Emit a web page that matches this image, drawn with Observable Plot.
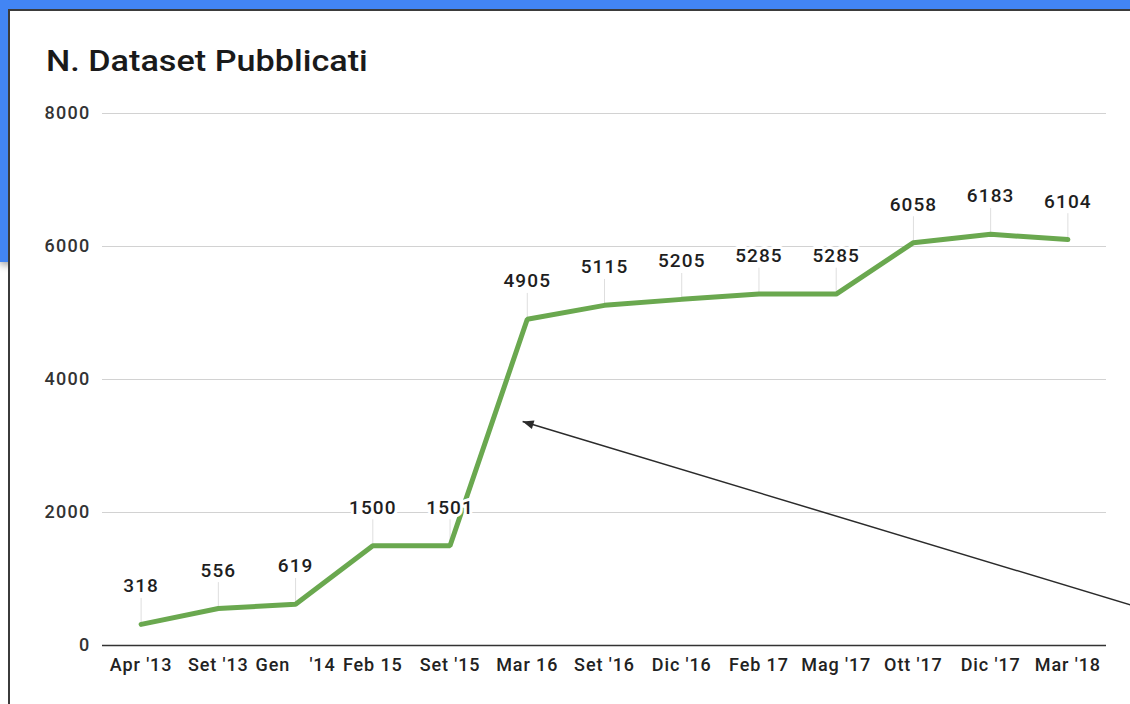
<!DOCTYPE html>
<html>
<head>
<meta charset="utf-8">
<script src="https://cdn.jsdelivr.net/npm/d3@7"></script>
<script src="https://cdn.jsdelivr.net/npm/@observablehq/plot@0.6"></script>
<style>
  html, body { margin: 0; padding: 0; }
  body { width: 1130px; height: 704px; overflow: hidden; position: relative; background: #ffffff; font-family: Roboto, "Noto Sans", sans-serif; }
  #blue { position: absolute; left: 0; top: 0; width: 1130px; height: 262px; background: #4285f4; box-shadow: 0 3px 7px rgba(0,0,0,0.35); }
  #card { position: absolute; left: 8px; top: 9px; width: 1140px; height: 720px; background: #ffffff; border-top: 2px solid #3b3b3b; border-left: 2px solid #3b3b3b; }
  #title { position: absolute; left: 46px; top: 46px; font-size: 30px; line-height: 30px; font-weight: 500; color: #1a1a1a; white-space: nowrap; transform: scaleX(1.14); transform-origin: left center; }
  #chart { position: absolute; left: 0; top: 95px; }
  #chart text { font-weight: 500; }
  #chart g[aria-label="y-axis tick label"] text { letter-spacing: 1.3px; }
  #chart g[aria-label="x-axis tick label"] text { letter-spacing: 0.9px; }
  #chart g[aria-label="text"] text { letter-spacing: 1.1px; }
</style>
</head>
<body>
<div id="blue"></div>
<div id="card"></div>
<div id="title">N. Dataset Pubblicati</div>
<div id="chart"></div>
<script>
const periods = ["Apr '13", "Set '13", "Gen\u2003'14", "Feb 15", "Set '15", "Mar 16", "Set '16", "Dic '16", "Feb 17", "Mag '17", "Ott '17", "Dic '17", "Mar '18"];
const datasets = [318, 556, 619, 1500, 1501, 4905, 5115, 5205, 5285, 5285, 6058, 6183, 6104];
const yTicks = [0, 2000, 4000, 6000, 8000];
// annotation arrow (x in category index units, y in dataset units)
const arrowFrom = { x: 13.2, y: 475 };
const arrowTo = { x: 4.94, y: 3368 };

const data = periods.map((p, i) => ({ i, period: p, value: datasets[i] }));
const annotation = [{ x1: arrowFrom.x, y1: arrowFrom.y, x2: arrowTo.x, y2: arrowTo.y }];

function triangleMarker(color, context) {
  const doc = (context && context.document) || document;
  const ns = "http://www.w3.org/2000/svg";
  const m = doc.createElementNS(ns, "marker");
  m.setAttribute("viewBox", "-12 -6 13 12");
  m.setAttribute("markerUnits", "userSpaceOnUse");
  m.setAttribute("markerWidth", "13");
  m.setAttribute("markerHeight", "12");
  m.setAttribute("refX", "0");
  m.setAttribute("refY", "0");
  m.setAttribute("orient", "auto");
  m.setAttribute("fill", color);
  m.setAttribute("stroke", "none");
  const p = doc.createElementNS(ns, "path");
  p.setAttribute("d", "M-11,-4.5L0,0L-11,4.5Z");
  m.appendChild(p);
  return m;
}

const leaderShape = {
  draw(context, l) {
    context.moveTo(0, 0);
    context.lineTo(0, -l);
  }
};

const chart = Plot.plot({
  width: 1130,
  height: 609,
  marginTop: 18,
  marginBottom: 59,
  marginLeft: 102,
  marginRight: 24,
  style: { fontFamily: "Roboto, 'Noto Sans', sans-serif", background: "transparent", overflow: "visible" },
  x: { type: "linear", domain: [-0.5, periods.length - 0.5], axis: null },
  y: { domain: [0, 8000], axis: null },
  marks: [
    Plot.ruleY(yTicks.filter(d => d > 0), { stroke: "#d2d2d2", strokeWidth: 1 }),
    Plot.axisY({ ticks: yTicks, tickSize: 0, tickPadding: 12, fontSize: 18, color: "#333333", tickFormat: d => `${d}`, label: null }),
    Plot.axisX({ ticks: periods.map((_, i) => i), tickFormat: i => periods[i], tickSize: 0, tickPadding: 13, fontSize: 18, color: "#222222", label: null }),
    Plot.ruleY([0], { stroke: "#333333", strokeWidth: 1.5 }),
    Plot.vector(data, { x: "i", y: "value", length: 26, anchor: "start", shape: leaderShape, stroke: "#dedede", strokeWidth: 1 }),
    Plot.line(data, { x: "i", y: "value", stroke: "#6aa84f", strokeWidth: 5, strokeLinejoin: "miter" }),
    Plot.text(data, { x: "i", y: "value", text: d => `${d.value}`, dy: -38, fontSize: 19, fill: "#1e1e1e", stroke: "white", strokeWidth: 6, paintOrder: "stroke" }),
    Plot.link(annotation, { x1: "x1", y1: "y1", x2: "x2", y2: "y2", stroke: "#2b2b2b", strokeWidth: 1.5, markerEnd: triangleMarker })
  ]
});
document.getElementById("chart").appendChild(chart);
</script>
</body>
</html>
